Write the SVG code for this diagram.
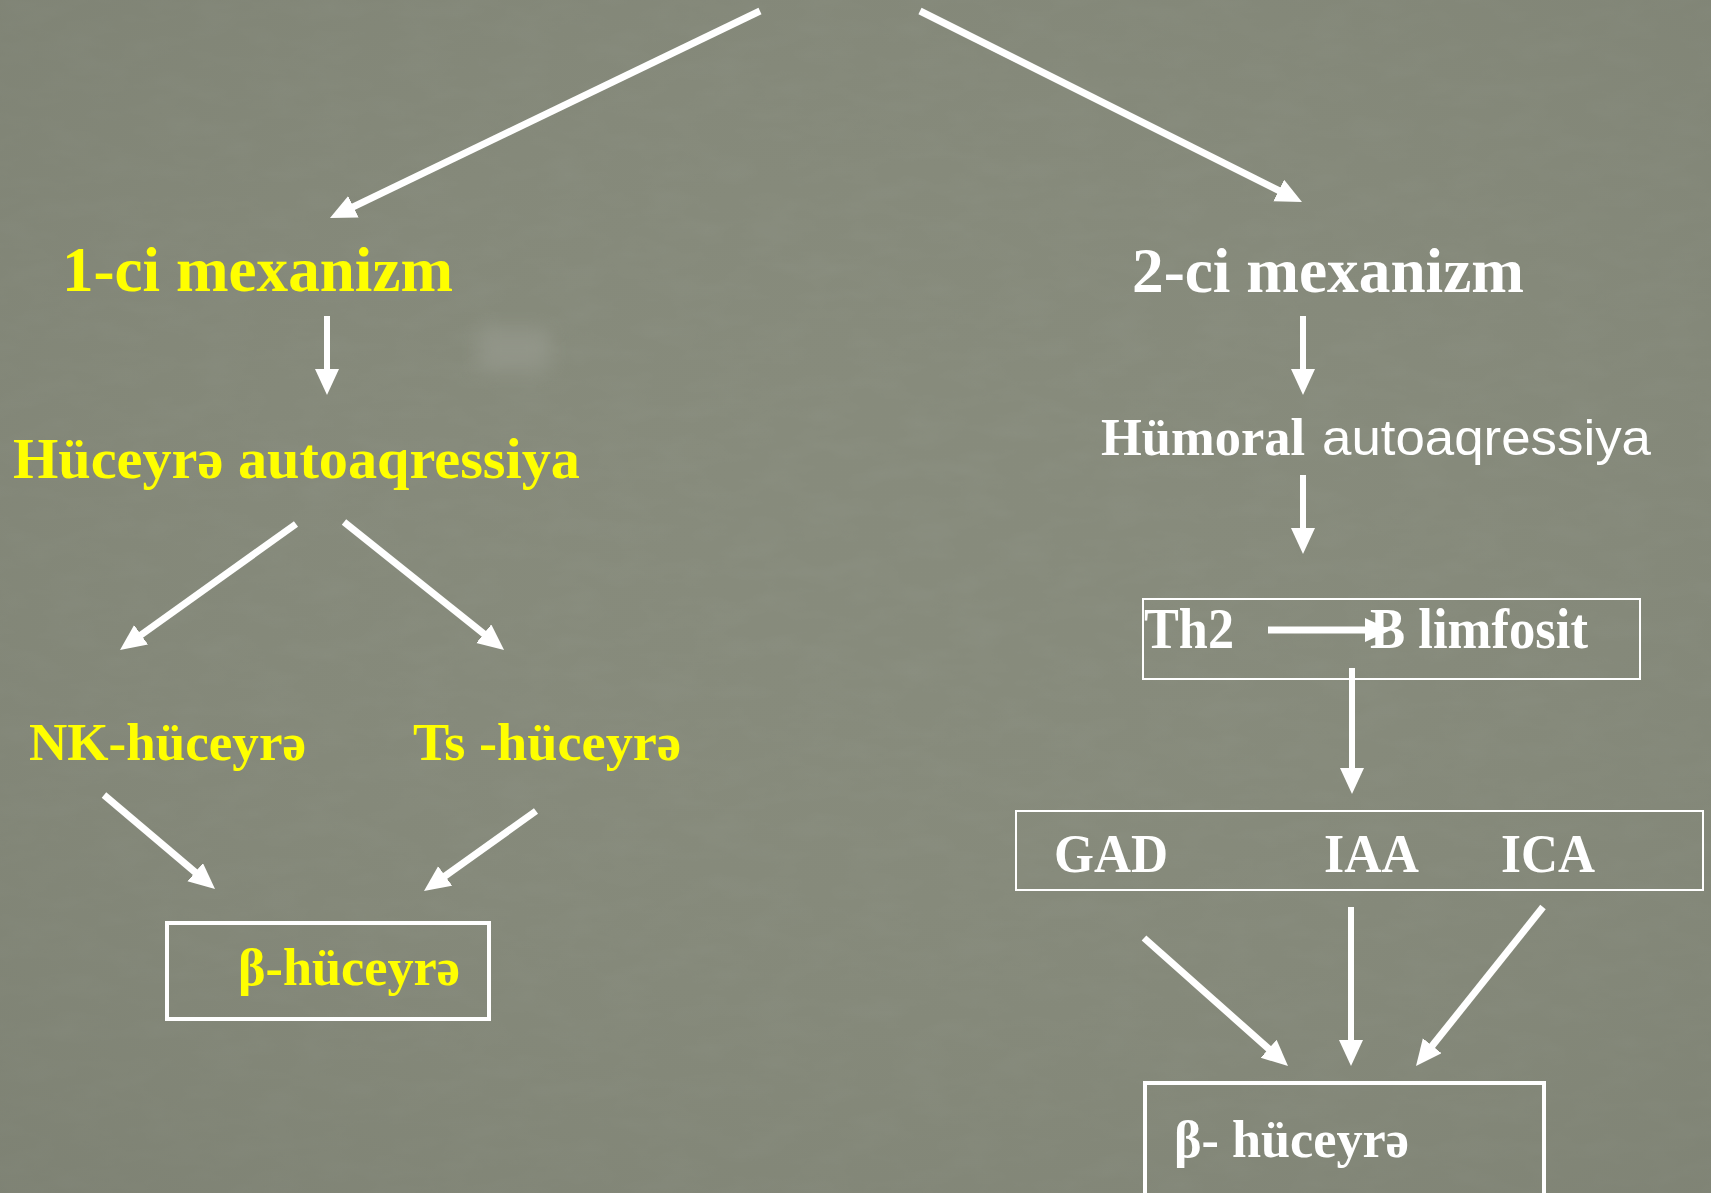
<svg xmlns="http://www.w3.org/2000/svg" width="1711" height="1193" viewBox="0 0 1711 1193">
<defs>
<style>
.bg{fill:#878b7c}
.conn{stroke:#ffffff;fill:none;stroke-width:7}
.v{stroke-width:6}
.box{fill:none;stroke:#ffffff}
.t{font-family:"Liberation Serif","Times New Roman",serif;font-weight:bold}
.s{font-family:"Liberation Sans",Arial,sans-serif;font-weight:normal}
.y{fill:#ffff00}
.w{fill:#ffffff}
</style>
<marker id="ah" markerUnits="userSpaceOnUse" markerWidth="28" markerHeight="26" refX="2" refY="12" orient="auto" viewBox="0 0 28 26">
<path d="M0,0 L26,12 L0,24 z" fill="#ffffff"/>
</marker>
<filter id="noise" x="0" y="0" width="100%" height="100%">
<feTurbulence type="fractalNoise" baseFrequency="0.02 0.05" numOctaves="3" seed="4"/>
<feColorMatrix type="matrix" values="0 0 0 0 0.3  0 0 0 0 0.32  0 0 0 0 0.27  0 0 0 -1.2 0.75"/>
</filter>
<filter id="soft" x="-50%" y="-50%" width="200%" height="200%">
<feGaussianBlur stdDeviation="10"/>
</filter>
<radialGradient id="vig" cx="0.55" cy="0.45" r="0.75">
<stop offset="0" stop-color="#8c907f" stop-opacity="0"/>
<stop offset="1" stop-color="#6f7366" stop-opacity="0.35"/>
</radialGradient>
</defs>
<rect class="bg" x="0" y="0" width="1711" height="1193"/>
<rect x="0" y="0" width="1711" height="1193" filter="url(#noise)" opacity="0.35"/>
<rect x="0" y="0" width="1711" height="1193" fill="url(#vig)"/>
<rect x="478" y="328" width="72" height="44" fill="#9a9d92" opacity="0.6" filter="url(#soft)"/>

<g id="connectors">
<line class="conn" x1="760" y1="11" x2="351.6" y2="207.6" marker-end="url(#ah)"/>
<line class="conn" x1="920" y1="11" x2="1280.5" y2="191.3" marker-end="url(#ah)"/>
<line class="conn v" x1="327" y1="316" x2="327" y2="371" marker-end="url(#ah)"/>
<line class="conn" x1="296" y1="524" x2="139.5" y2="636" marker-end="url(#ah)"/>
<line class="conn" x1="344" y1="522" x2="485.3" y2="635" marker-end="url(#ah)"/>
<line class="conn" x1="104" y1="795" x2="196.7" y2="873.5" marker-end="url(#ah)"/>
<line class="conn" x1="536" y1="811" x2="443.5" y2="877.1" marker-end="url(#ah)"/>
<line class="conn v" x1="1303" y1="316" x2="1303" y2="371" marker-end="url(#ah)"/>
<line class="conn v" x1="1303" y1="475" x2="1303" y2="530" marker-end="url(#ah)"/>
<line class="conn" x1="1268" y1="630" x2="1367" y2="630" marker-end="url(#ah)"/>
<line class="conn v" x1="1352" y1="668" x2="1352" y2="770" marker-end="url(#ah)"/>
<line class="conn" x1="1144" y1="938" x2="1270.1" y2="1050.1" marker-end="url(#ah)"/>
<line class="conn v" x1="1351" y1="907" x2="1351" y2="1042" marker-end="url(#ah)"/>
<line class="conn" x1="1543" y1="907" x2="1431" y2="1047.3" marker-end="url(#ah)"/>
</g>

<g id="mech1">
<text class="t y" x="62" y="291" font-size="64" textLength="391" lengthAdjust="spacingAndGlyphs">1-ci mexanizm</text>
</g>
<g id="cell-autoaggression">
<text class="t y" x="13" y="478" font-size="58" textLength="567" lengthAdjust="spacingAndGlyphs">Hüceyrə autoaqressiya</text>
</g>
<g id="nk-cell">
<text class="t y" x="29" y="760" font-size="53" textLength="277" lengthAdjust="spacingAndGlyphs">NK-hüceyrə</text>
</g>
<g id="ts-cell">
<text class="t y" x="413" y="760" font-size="53" textLength="268" lengthAdjust="spacingAndGlyphs">Ts -hüceyrə</text>
</g>
<g id="beta-cell-1">
<rect class="box" x="167" y="923" width="322" height="96" stroke-width="4"/>
<text class="t y" x="238" y="985" font-size="53" textLength="222" lengthAdjust="spacingAndGlyphs">β-hüceyrə</text>
</g>

<g id="mech2">
<text class="t w" x="1132" y="292" font-size="64" textLength="392" lengthAdjust="spacingAndGlyphs">2-ci mexanizm</text>
</g>
<g id="humoral">
<text class="t w" x="1101" y="455" font-size="52" textLength="204" lengthAdjust="spacingAndGlyphs">Hümoral</text>
<text class="s w" x="1322" y="455" font-size="50" textLength="329" lengthAdjust="spacingAndGlyphs">autoaqressiya</text>
</g>
<g id="th2-b">
<rect class="box" x="1143" y="599" width="497" height="80" stroke-width="2"/>
<text class="t w" x="1144" y="648" font-size="58" textLength="90" lengthAdjust="spacingAndGlyphs">Th2</text>
<text class="t w" x="1370" y="648" font-size="58" textLength="218" lengthAdjust="spacingAndGlyphs">B limfosit</text>
</g>
<g id="antibodies">
<rect class="box" x="1016" y="811" width="687" height="79" stroke-width="2"/>
<text class="t w" x="1054" y="872" font-size="54" textLength="114" lengthAdjust="spacingAndGlyphs">GAD</text>
<text class="t w" x="1324" y="872" font-size="54" textLength="95" lengthAdjust="spacingAndGlyphs">IAA</text>
<text class="t w" x="1501" y="872" font-size="54" textLength="94" lengthAdjust="spacingAndGlyphs">ICA</text>
</g>
<g id="beta-cell-2">
<rect class="box" x="1145" y="1083" width="399" height="130" stroke-width="4"/>
<text class="t w" x="1174" y="1157" font-size="53" textLength="235" lengthAdjust="spacingAndGlyphs">β- hüceyrə</text>
</g>
</svg>
